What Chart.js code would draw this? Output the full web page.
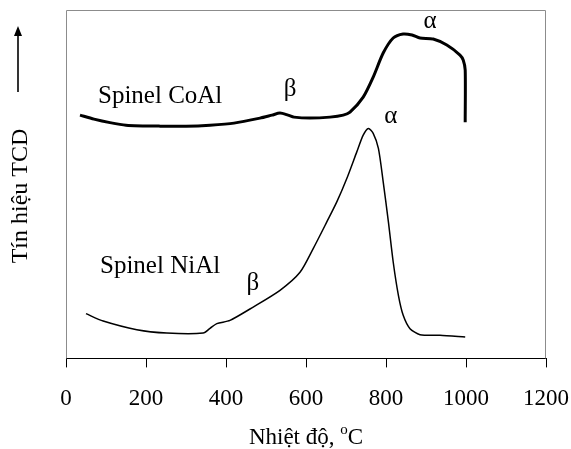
<!DOCTYPE html>
<html>
<head>
<meta charset="utf-8">
<script src="https://cdn.jsdelivr.net/npm/chart.js@4/dist/chart.umd.min.js"></script>
<style>
  html, body { margin: 0; padding: 0; background: #fff; }
  #wrap { width: 571px; height: 449px; }
</style>
</head>
<body>
<div id="wrap"><canvas id="tpr"></canvas></div>
<script>
// TPR profiles of spinel catalysts (TCD signal vs temperature, arbitrary units)
const xTicks = [0, 200, 400, 600, 800, 1000, 1200];

const coalTemp = [35, 70, 110, 150, 235, 300, 360, 420, 485, 515, 535, 555, 570, 610, 660, 693, 710,
  743, 768, 793, 818, 843, 865, 885, 918, 952, 985, 993, 998, 998];
const coalSignal = [243, 239, 235.5, 233, 232, 232, 233, 235, 240, 243, 245, 243, 241, 240, 241, 243, 246,
  261, 281, 305, 320, 324, 323, 320, 319, 313, 303, 298, 288, 236];

const nialTemp = [50, 93, 177, 252, 343, 360, 377, 410, 468, 535, 585, 618, 652, 677, 702, 727, 743,
  756, 768, 781, 793, 806, 818, 831, 843, 860, 885, 935, 998];
const nialSignal = [44.7, 37.3, 28.7, 25.3, 25.3, 30, 34.7, 38, 51.3, 68, 86, 109.7, 136.3, 156.3, 179.7,
  206.3, 223, 229.7, 224.7, 209.7, 176.3, 136.3, 96.3, 63, 43, 29.7, 23.7, 23, 21.3];

// in-plot labels, anchored in data units (temperature, signal)
const noteText = ['Spinel CoAl', 'β', 'α', 'Spinel NiAl', 'β', 'α'];
const noteTemp = [80, 560, 910, 85, 467, 812];
const noteSignal = [255, 262, 330, 85, 68.5, 235];
const noteAlign = ['left', 'center', 'center', 'left', 'center', 'center'];

const SERIF = '"Liberation Serif", "Times New Roman", serif';

const pts = (xs, ys) => xs.map((x, i) => ({ x, y: ys[i] }));

const decorations = {
  id: 'decorations',
  afterDraw(chart) {
    const { ctx, chartArea: a, scales: { x, y } } = chart;
    ctx.save();
    // grey frame on top/left/right
    ctx.strokeStyle = '#8c8c8c';
    ctx.lineWidth = 1;
    ctx.beginPath();
    ctx.moveTo(a.left + 0.5, a.bottom);
    ctx.lineTo(a.left + 0.5, a.top + 0.5);
    ctx.lineTo(a.right - 0.5, a.top + 0.5);
    ctx.lineTo(a.right - 0.5, a.bottom);
    ctx.stroke();

    ctx.fillStyle = '#000';
    ctx.font = `25px ${SERIF}`;
    ctx.textBaseline = 'alphabetic';
    noteText.forEach((t, i) => {
      ctx.textAlign = noteAlign[i];
      ctx.fillText(t, x.getPixelForValue(noteTemp[i]), y.getPixelForValue(noteSignal[i]));
    });

    // x title with superscript o
    const main = 'Nhiệt độ, ';
    ctx.font = `23px ${SERIF}`;
    const w1 = ctx.measureText(main).width;
    const w3 = ctx.measureText('C').width;
    ctx.font = `15px ${SERIF}`;
    const w2 = ctx.measureText('o').width;
    let sx = (a.left + a.right) / 2 - (w1 + w2 + w3) / 2;
    const base = 444;
    ctx.textAlign = 'left';
    ctx.font = `23px ${SERIF}`;
    ctx.fillText(main, sx, base);
    ctx.font = `15px ${SERIF}`;
    ctx.fillText('o', sx + w1, base - 10);
    ctx.font = `23px ${SERIF}`;
    ctx.fillText('C', sx + w1 + w2, base);

    // y title
    ctx.save();
    ctx.translate(21, 196);
    ctx.rotate(-Math.PI / 2);
    ctx.textAlign = 'center';
    ctx.textBaseline = 'middle';
    ctx.font = `24px ${SERIF}`;
    ctx.fillText('Tín hiệu TCD', 0, 0);
    ctx.restore();

    // arrow
    ctx.strokeStyle = '#000';
    ctx.lineWidth = 1.6;
    ctx.beginPath();
    ctx.moveTo(18, 92);
    ctx.lineTo(18, 34);
    ctx.stroke();
    ctx.beginPath();
    ctx.moveTo(18, 26);
    ctx.lineTo(14, 36);
    ctx.lineTo(22, 36);
    ctx.closePath();
    ctx.fill();
    ctx.restore();
  },
};

new Chart(document.getElementById('tpr'), {
  type: 'line',
  data: {
    datasets: [
      { label: 'Spinel CoAl', data: pts(coalTemp, coalSignal), borderColor: '#000', borderWidth: 3,
        pointRadius: 0, tension: 0.25, fill: false },
      { label: 'Spinel NiAl', data: pts(nialTemp, nialSignal), borderColor: '#000', borderWidth: 1.5,
        pointRadius: 0, tension: 0.25, fill: false },
    ],
  },
  options: {
    responsive: true,
    maintainAspectRatio: false,
    animation: false,
    layout: { padding: { left: 66, top: 10, right: 25, bottom: 18 } },
    plugins: { legend: { display: false }, tooltip: { enabled: false } },
    scales: {
      x: {
        type: 'linear', min: 0, max: 1200,
        afterBuildTicks: (s) => { s.ticks = xTicks.map((v) => ({ value: v })); },
        afterFit: (s) => { s.paddingLeft = 0; s.paddingRight = 0; },
        ticks: { color: '#000', font: { family: SERIF, size: 23 }, padding: 18, maxRotation: 0,
          callback: (v) => String(v) },
        grid: { drawOnChartArea: false, drawTicks: true, tickLength: 9, color: '#000' },
        border: { color: '#000', width: 1 },
      },
      y: { display: false, min: 0, max: 348 },
    },
  },
  plugins: [decorations],
});
</script>
</body>
</html>
